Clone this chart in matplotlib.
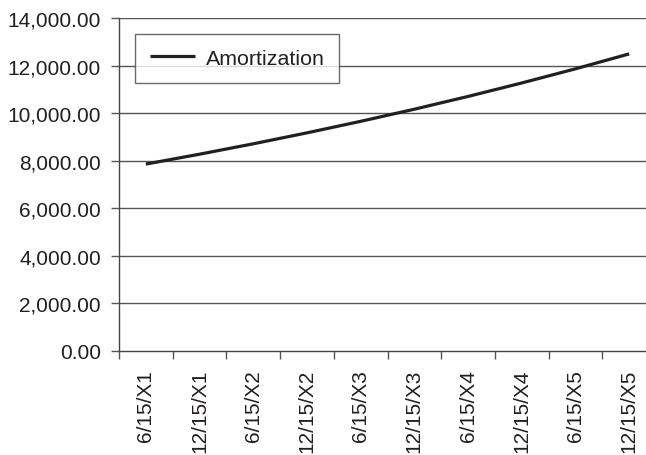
import numpy as np
import matplotlib
matplotlib.use('Agg')
import matplotlib.pyplot as plt
from matplotlib.ticker import FuncFormatter

plt.rcParams['font.family'] = ['Liberation Sans', 'DejaVu Sans']

# Data
dates = ['6/15/X1', '12/15/X1', '6/15/X2', '12/15/X2', '6/15/X3',
         '12/15/X3', '6/15/X4', '12/15/X4', '6/15/X5', '12/15/X5']
amortization = [7860, 8276, 8714, 9175, 9660, 10171, 10709, 11276, 11872, 12500]
yticks = [0, 2000, 4000, 6000, 8000, 10000, 12000, 14000]

fig = plt.figure(figsize=(6.46, 4.56), dpi=100)
ax = fig.add_axes([0.1842, 0.2287, 0.8313, 0.7290])

x = np.arange(len(dates))
ax.plot(x, amortization, color='#231f20', linewidth=2.3, label='Amortization',
        solid_capstyle='butt', zorder=3)

ax.set_xlim(-0.5, len(dates) - 0.5)
ax.set_ylim(0, 14000)
ax.set_yticks(yticks)
ax.yaxis.set_major_formatter(FuncFormatter(lambda v, p: f'{v:,.2f}'))
ax.set_xticks(np.arange(len(dates) + 1) - 0.5)
ax.set_xticklabels([])
ax.set_xticks(x, minor=True)
ax.set_xticklabels(dates, minor=True, rotation=90, fontsize=15, color='#231f20')

ax.tick_params(axis='y', which='major', direction='out', length=6, width=1,
               color='#555555', pad=7, labelsize=15, labelcolor='#231f20')
ax.tick_params(axis='x', which='major', direction='out', length=6, width=1,
               color='#555555')
ax.tick_params(axis='x', which='minor', length=0, pad=13)

for v in yticks[1:]:
    ax.axhline(v, color='#555555', linewidth=1, zorder=1)

for s in ['top', 'right']:
    ax.spines[s].set_visible(False)
for s in ['left', 'bottom']:
    ax.spines[s].set_color('#444444')
    ax.spines[s].set_linewidth(1)

leg = ax.legend(loc='upper left', bbox_to_anchor=(0.0298, 0.9528), borderaxespad=0,
                fontsize=15.4, frameon=True, fancybox=False, handlelength=2.1,
                handletextpad=0.5, borderpad=0.7)
leg.get_frame().set_edgecolor('#444444')
leg.get_frame().set_linewidth(1)
for t in leg.get_texts():
    t.set_color('#231f20')

fig.savefig('out.png', dpi=100)
